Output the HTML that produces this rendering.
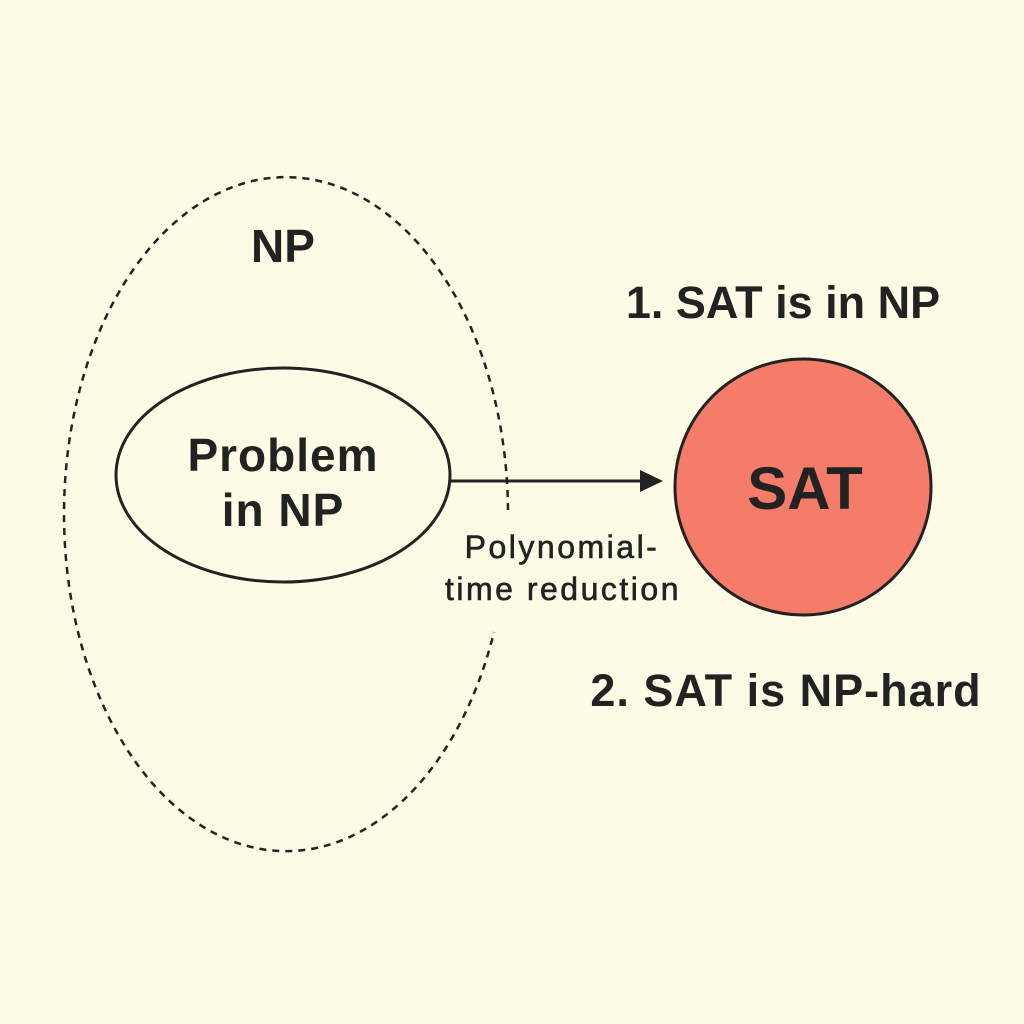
<!DOCTYPE html>
<html><head><style>
body{margin:0;background:#fdfbe6;}
svg{display:block}
text{font-family:"Liberation Sans",sans-serif;fill:#222;text-anchor:middle;}
</style></head><body>
<svg width="1024" height="1024" viewBox="0 0 1024 1024">
<rect width="1024" height="1024" fill="#fdfbe6"/>
<path d="M 508 510 A 222 337 0 1 0 494 632" fill="none" stroke="#222" stroke-width="2.5" stroke-dasharray="7,6"/>
<ellipse cx="283" cy="475" rx="167" ry="107" fill="#fdfbe6" stroke="#222" stroke-width="3"/>
<line x1="450" y1="481" x2="645" y2="481" stroke="#222" stroke-width="3"/>
<polygon points="663,481 640,470 640,492" fill="#222"/>
<circle cx="803" cy="487" r="128" fill="#f47c68" stroke="#222" stroke-width="3"/>
<text x="283" y="262" font-size="46" font-weight="bold">NP</text>
<text x="283" y="471" font-size="46" font-weight="bold" letter-spacing="1">Problem</text>
<text x="283" y="526" font-size="46" font-weight="bold" letter-spacing="1">in NP</text>
<text x="805" y="509" font-size="60" font-weight="bold">SAT</text>
<text x="783" y="318" font-size="45" font-weight="bold">1. SAT is in NP</text>
<text x="786" y="706" font-size="45" font-weight="bold" letter-spacing="1">2. SAT is NP-hard</text>
<text x="562" y="558" font-size="32" letter-spacing="2.5" stroke="#222" stroke-width="0.6">Polynomial-</text>
<text x="563" y="600" font-size="32" letter-spacing="2.5" stroke="#222" stroke-width="0.6">time reduction</text>
</svg>
</body></html>
